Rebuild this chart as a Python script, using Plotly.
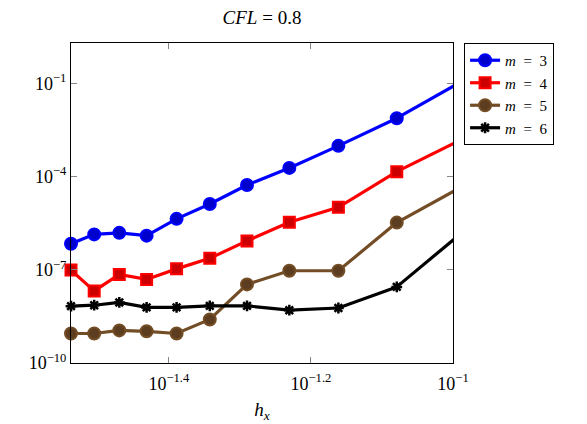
import numpy as np
import plotly.graph_objects as go

# h_x = 2/N
N = [69, 64, 59, 54, 49, 44, 39, 34, 29, 24, 19]
hx = [2.0 / n for n in N]

# log10 of errors (last point lies beyond x = 0.1)
log_m3 = [-6.16, -5.86, -5.81, -5.90, -5.36, -4.88, -4.27, -3.72, -3.01, -2.12, -0.81]
log_m4 = [-7.01, -7.68, -7.15, -7.31, -6.97, -6.63, -6.07, -5.47, -4.99, -3.84, -2.69]
log_m5 = [-9.05, -9.05, -8.95, -8.98, -9.05, -8.60, -7.47, -7.03, -7.03, -5.48, -4.20]
log_m6 = [-8.17, -8.14, -8.05, -8.21, -8.21, -8.16, -8.16, -8.30, -8.23, -7.55, -5.62]

series = [
    ("<i>m</i>  =  3", log_m3, "#0000FF", "#0000CC", "circle", 12),
    ("<i>m</i>  =  4", log_m4, "#FF0000", "#CC0000", "square", 11),
    ("<i>m</i>  =  5", log_m5, "#734D26", "#5C3D1F", "circle", 12),
    ("<i>m</i>  =  6", log_m6, "#000000", "#000000", "asterisk", 9),
]

x_ticks = [10 ** -1.4, 10 ** -1.2, 10 ** -1]
x_ticktext = ["10<sup>−1.4</sup>", "10<sup>−1.2</sup>", "10<sup>−1</sup>"]
y_ticks = [1e-1, 1e-4, 1e-7, 1e-10]
y_ticktext = ["10<sup>−1</sup>", "10<sup>−4</sup>", "10<sup>−7</sup>", "10<sup>−10</sup>"]

FONT = "Liberation Serif, DejaVu Serif, serif"
W, H = 579, 416  # page body has an 8px margin
fig = go.Figure()
for name, logs, col, fill, sym, sz in series:
    y = [10 ** v for v in logs]
    # segment running out past the right edge (clipped)
    fig.add_trace(go.Scatter(x=hx[-2:], y=y[-2:], mode="lines",
                             line=dict(color=col, width=3.2),
                             showlegend=False, hoverinfo="skip"))
    if sym == "asterisk":
        marker = dict(symbol="asterisk-open", size=sz,
                      line=dict(color=col, width=2.5), color=col)
    else:
        marker = dict(symbol=sym, size=sz, color=fill,
                      line=dict(color=col, width=2))
    fig.add_trace(go.Scatter(x=hx[:-1], y=y[:-1], mode="lines+markers",
                             name=name, line=dict(color=col, width=3.2),
                             marker=marker, cliponaxis=False))

fig.update_layout(
    width=W, height=H,
    margin=dict(l=63, r=134, t=35, b=61, autoexpand=False),
    paper_bgcolor="white", plot_bgcolor="white",
    font=dict(family=FONT, size=18, color="black"),
    title=dict(text="<i>CFL</i> = 0.8", x=254 / W, xanchor="center",
               y=1.0, yanchor="top", pad=dict(t=3, b=0),
               font=dict(size=19)),
    legend=dict(x=1.029, xanchor="left", y=1.0, yanchor="top",
                bordercolor="black", borderwidth=1, bgcolor="white",
                font=dict(size=15), tracegroupgap=0),
    showlegend=True,
)
fig.update_xaxes(type="log", range=[np.log10(hx[0]), -1], automargin=False,
                 tickvals=x_ticks, ticktext=x_ticktext, ticklabelstandoff=4,
                 ticks="inside", ticklen=6, tickcolor="#888888",
                 showline=True, linecolor="black", linewidth=1, mirror="ticks",
                 showgrid=False, zeroline=False,
                 title=dict(text="<i>h<sub>x</sub></i>", standoff=10,
                            font=dict(size=19)))
fig.update_yaxes(type="log", range=[-10, np.log10(2)], automargin=False,
                 tickvals=y_ticks, ticktext=y_ticktext,
                 ticks="inside", ticklen=6, tickcolor="#888888",
                 showline=True, linecolor="black", linewidth=1, mirror="ticks",
                 showgrid=False, zeroline=False)

fig.write_html("out.html")
